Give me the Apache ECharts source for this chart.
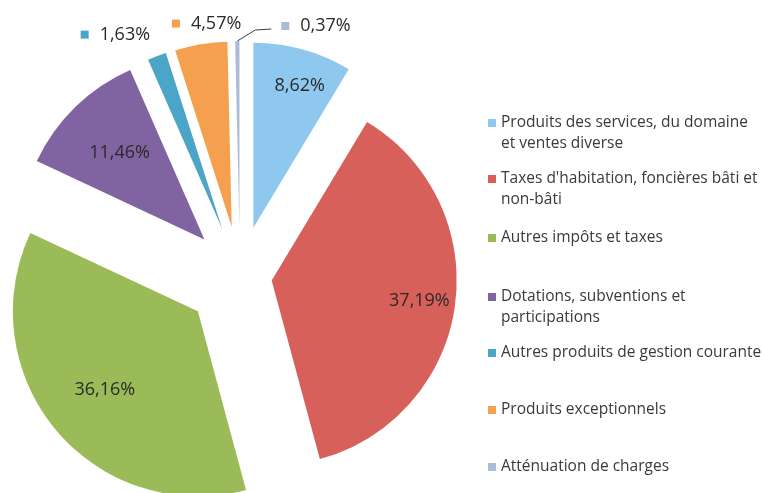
<!DOCTYPE html>
<html><head><meta charset="utf-8">
<script src="https://cdn.jsdelivr.net/npm/echarts@6/dist/echarts.min.js"></script>
<style>html,body{margin:0;padding:0;background:#fff}#c{width:763px;height:493px}</style>
</head><body><div id="c"></div>
<script>
// ---- data ----
const categories = [
  "Produits des services, du domaine et ventes diverse",
  "Taxes d'habitation, foncières bâti et non-bâti",
  "Autres impôts et taxes",
  "Dotations, subventions et participations",
  "Autres produits de gestion courante",
  "Produits exceptionnels",
  "Atténuation de charges"
];
const legendLabels = [
  "Produits des services, du domaine\net ventes diverse",
  "Taxes d'habitation, foncières bâti et\nnon-bâti",
  "Autres impôts et taxes",
  "Dotations, subventions et\nparticipations",
  "Autres produits de gestion courante",
  "Produits exceptionnels",
  "Atténuation de charges"
];
const values = [8.62, 37.19, 36.16, 11.46, 1.63, 4.57, 0.37];

// ---- style ----
const colors = ['#8FC8EE', '#D7605A', '#9BBB59', '#8064A2', '#4BA5C6', '#F4A04E', '#A9BCD9'];
const explode = [50, 32, 55, 51, 50, 50, 50];          // slice pull-out, px
const labelRatio = [0.80, 0.79, 0.64, 0.64, 0, 0, 0];   // inside label position, share of radius
const FONT = 'Open Sans';
const CENTER = [240, 276], R = 185;
const legendLineCenters = [123, 179, 238, 297, 353, 410, 467];
const LH = 21;
const LABEL_SIZE = 18;
const fmt = v => v.toFixed(2).replace('.', ',') + '%';
const isInside = i => labelRatio[i] > 0;

const chart = echarts.init(document.getElementById('c'), null, {renderer: 'canvas'});

// small nudges of the outside labels, relative to where ECharts puts them
function labelLayout(p) {
  const pts = p.labelLinePoints;
  if (p.dataIndex === 4) return {dx: 20, dy: -1};
  if (p.dataIndex === 5) return {dx: 63, dy: 1};
  if (p.dataIndex === 6 && pts) {
    const p0 = pts[0];
    const p1 = [p0[0] + 18, p0[1] - 11];
    const p2 = [p1[0] + 16, p1[1] - 1];
    const r = p.labelRect;
    return {
      dx: p2[0] + 10 - r.x,
      dy: (p2[1] - 3) - (r.y + r.height / 2),
      labelLinePoints: [p0, p1, p2]
    };
  }
}

function insideLabelLayout(p) {
  if (p.dataIndex === 0) return {dx: 6, dy: 4};
}

function sliceSeries(i) {
  return {
    type: 'pie', center: CENTER, radius: R, startAngle: 90, clockwise: true,
    selectedMode: 'multiple', selectedOffset: explode[i], animation: false, silent: true,
    avoidLabelOverlap: false, emphasis: {disabled: true},
    labelLayout: labelLayout,
    data: categories.map((n, j) => {
      const mine = j === i;
      const outsideLabel = mine && !isInside(j);
      return {
        name: n, value: values[j], selected: true,
        itemStyle: {color: mine ? colors[j] : 'rgba(0,0,0,0)'},
        label: outsideLabel ? {
          show: true, position: 'outside',
          formatter: '{m|}{s|}{v|' + fmt(values[j]) + '}',
          rich: {
            m: {width: 8, height: 8, backgroundColor: colors[j]},
            s: {width: 11},
            v: {fontFamily: FONT, fontSize: LABEL_SIZE, color: '#2a2a2a'}
          }
        } : {show: false},
        labelLine: {show: outsideLabel && j === 6, length: 22, length2: 14,
          lineStyle: {color: '#404040', width: 1}}
      };
    })
  };
}

function labelSeries(i) {
  return {
    type: 'pie', center: CENTER, radius: [(2 * labelRatio[i] - 1) * R, R], startAngle: 90, clockwise: true,
    selectedMode: 'multiple', selectedOffset: explode[i], silent: true, animation: false,
    avoidLabelOverlap: false, z: 3,
    itemStyle: {color: 'rgba(0,0,0,0)'},
    emphasis: {disabled: true},
    labelLine: {show: false},
    labelLayout: insideLabelLayout,
    data: categories.map((n, j) => ({
      name: n, value: values[j], selected: true,
      label: {show: j === i, position: 'inside', formatter: fmt(values[j]),
        fontFamily: FONT, fontSize: LABEL_SIZE, color: '#2a2a2a'}
    }))
  };
}

const series = [];
categories.forEach((n, i) => series.push(sliceSeries(i)));
categories.forEach((n, i) => { if (isInside(i)) series.push(labelSeries(i)); });

const legends = legendLabels.map((t, i) => {
  const two = t.indexOf('\n') >= 0;
  return {
    orient: 'vertical', left: 488, top: legendLineCenters[i] - (two ? LH * 1.5 : LH / 2),
    padding: 0, itemGap: 0, itemWidth: 8, itemHeight: 8, icon: 'rect', selectedMode: false,
    data: [{name: categories[i], itemStyle: {color: colors[i]}}],
    // a blank first line keeps the marker level with the first text line
    formatter: () => (two ? ' \n' + t : t),
    textStyle: {fontFamily: FONT, fontSize: 15.5, color: '#3a3a3a', lineHeight: LH}
  };
});

chart.setOption({
  animation: false,
  backgroundColor: '#fff',
  legend: legends,
  series: series
});
</script></body></html>
